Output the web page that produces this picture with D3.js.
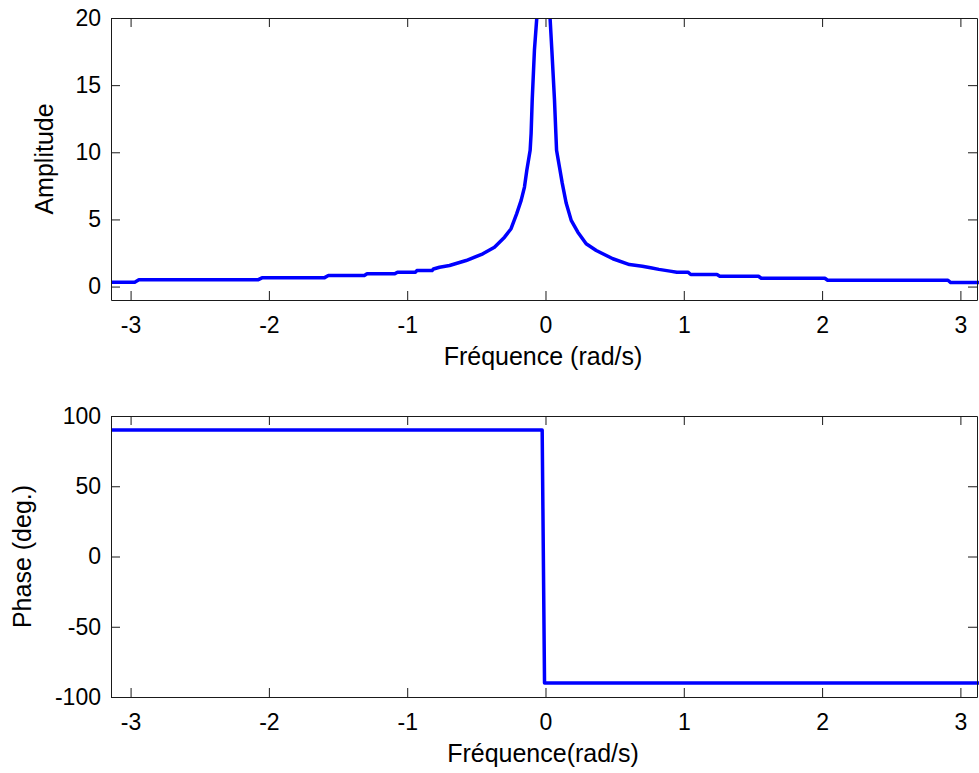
<!DOCTYPE html>
<html>
<head>
<meta charset="utf-8">
<script src="https://cdn.jsdelivr.net/npm/d3@7"></script>
<style>
body { margin: 0; background: #fff; }
text { font-family: "Liberation Sans", Arial, sans-serif; fill: #000; }
</style>
</head>
<body>
<svg id="chart" width="979" height="773"></svg>
<script>
// amplitude curve (rad/s -> amplitude)
var ampFreq = [-3.1416, -2.97, -2.94, -2.08, -2.05, -1.60, -1.57, -1.31, -1.29, -1.09, -1.07, -0.94, -0.93, -0.82, -0.81,
  -0.766, -0.694, -0.574, -0.453, -0.369, -0.296, -0.249, -0.208, -0.176, -0.152, -0.135, -0.111, -0.104, -0.096, -0.080,
  -0.063, -0.045, -0.017, 0.015, 0.033, 0.046, 0.065, 0.075, 0.080, 0.101, 0.121, 0.150, 0.186, 0.234, 0.294, 0.367,
  0.487, 0.607, 0.70, 0.76, 0.82, 0.90, 0.95, 1.03, 1.05, 1.24, 1.26, 1.54, 1.56, 2.02, 2.04, 2.91, 2.93, 3.1416];
var ampValue = [0.32, 0.32, 0.50, 0.50, 0.65, 0.65, 0.82, 0.82, 0.95, 0.95, 1.07, 1.07, 1.19, 1.19, 1.31,
  1.44, 1.57, 1.94, 2.44, 2.93, 3.68, 4.31, 5.43, 6.42, 7.41, 8.66, 10.15, 11.4, 13.9, 17.6,
  20, 28, 100, 30, 20, 17.6, 13.9, 11.4, 10.15, 8.9, 7.7, 6.2, 4.93, 4.05, 3.19, 2.69,
  2.07, 1.64, 1.52, 1.40, 1.28, 1.15, 1.07, 1.07, 0.90, 0.90, 0.77, 0.77, 0.62, 0.62, 0.47, 0.47, 0.30, 0.30];

// phase curve (rad/s -> degrees)
var phaseFreq = [-3.1416, -0.024, -0.007, 3.1416];
var phaseValue = [90, 90, -90, -90];

// ticks
var freqTicks = [-3, -2, -1, 0, 1, 2, 3];
var ampTicks = [0, 5, 10, 15, 20];
var phaseTicks = [-100, -50, 0, 50, 100];

var svg = d3.select("#chart");
var plotLeft = 111, plotRight = 977;
var tickLen = 9;

// the picture is cut just before +pi on the right
var xScale = d3.scaleLinear().domain([-Math.PI, 3.12]).range([plotLeft, plotRight]);

function drawPanel(p) {
  var yScale = d3.scaleLinear().domain(p.yDomain).range([p.bottom, p.top]);
  var g = svg.append("g");

  // clip so the curve stays inside the box
  g.append("clipPath").attr("id", p.id + "-clip")
    .append("rect")
    .attr("x", plotLeft).attr("y", p.top)
    .attr("width", plotRight - plotLeft + 2).attr("height", p.bottom - p.top);

  // curve
  var line = d3.line().x(d => xScale(d[0])).y(d => yScale(d[1]));
  g.append("path")
    .datum(d3.zip(p.xs, p.ys))
    .attr("clip-path", "url(#" + p.id + "-clip)")
    .attr("fill", "none")
    .attr("stroke", "#0000ff")
    .attr("stroke-width", 3.5)
    .attr("stroke-linejoin", "round")
    .attr("d", line);

  var fmt = d => String(d); // plain hyphen minus like the original

  // bottom axis with labels
  g.append("g")
    .attr("transform", "translate(0," + p.bottom + ")")
    .call(d3.axisBottom(xScale).tickValues(freqTicks).tickSizeInner(-tickLen).tickSizeOuter(0).tickPadding(17).tickFormat(fmt));
  // top axis, ticks only
  g.append("g")
    .attr("transform", "translate(0," + p.top + ")")
    .call(d3.axisTop(xScale).tickValues(freqTicks).tickSizeInner(-tickLen).tickSizeOuter(0).tickFormat(""));
  // left axis with labels
  g.append("g")
    .attr("transform", "translate(" + plotLeft + ",0)")
    .call(d3.axisLeft(yScale).tickValues(p.yTicks).tickSizeInner(-tickLen).tickSizeOuter(0).tickPadding(10).tickFormat(fmt));
  // right axis, ticks only
  g.append("g")
    .attr("transform", "translate(" + plotRight + ",0)")
    .call(d3.axisRight(yScale).tickValues(p.yTicks).tickSizeInner(-tickLen).tickSizeOuter(0).tickFormat(""));

  g.selectAll(".domain").attr("stroke", "#1a1a1a");
  g.selectAll(".tick line").attr("stroke", "#1a1a1a");
  g.selectAll(".tick text")
    .attr("font-size", "23px")
    .attr("font-family", "'Liberation Sans', Arial, sans-serif")
    .attr("fill", "#000");

  // x label
  g.append("text")
    .attr("x", 543)
    .attr("y", p.bottom + 65)
    .attr("font-size", "25px")
    .attr("text-anchor", "middle")
    .text(p.xLabel);

  // y label
  g.append("text")
    .attr("transform", "translate(" + p.yLabelX + "," + (p.top + p.bottom) / 2 + ") rotate(-90)")
    .attr("font-size", "25px")
    .attr("text-anchor", "middle")
    .text(p.yLabel);
}

// amplitude panel
drawPanel({
  id: "amp", top: 18, bottom: 300, yDomain: [-1, 20], yTicks: ampTicks,
  xs: ampFreq, ys: ampValue,
  xLabel: "Fréquence (rad/s)", yLabel: "Amplitude", yLabelX: 53
});

// phase panel
drawPanel({
  id: "phase", top: 416, bottom: 697, yDomain: [-100, 100], yTicks: phaseTicks,
  xs: phaseFreq, ys: phaseValue,
  xLabel: "Fréquence(rad/s)", yLabel: "Phase (deg.)", yLabelX: 31
});
</script>
</body>
</html>
